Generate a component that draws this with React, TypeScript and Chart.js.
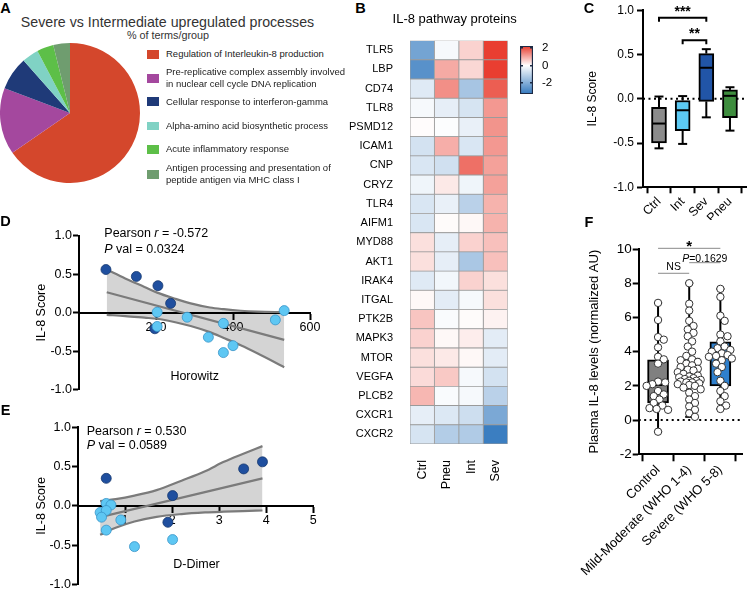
import React, { useEffect, useRef } from 'react';
import { Chart, registerables } from 'chart.js';

Chart.register(...registerables);

const FONT = '"Liberation Sans", Arial, Helvetica, sans-serif';
Chart.defaults.font.family = FONT;
Chart.defaults.color = '#000';

// ---------------- A: pie ----------------
const pieTerms = [
  ['Regulation of Interleukin-8 production'],
  ['Pre-replicative complex assembly involved', 'in nuclear cell cycle DNA replication'],
  ['Cellular response to interferon-gamma'],
  ['Alpha-amino acid biosynthetic process'],
  ['Acute inflammatory response'],
  ['Antigen processing and presentation of', 'peptide antigen via MHC class I'],
];
const pieShares = [17, 4, 2, 1, 1, 1];
const pieColors = ['#d4472c', '#a4489e', '#1f3a78', '#80d2c4', '#5dbf48', '#6f9d6f'];

// ---------------- B: heatmap ----------------
const heatProteins = ['TLR5', 'LBP', 'CD74', 'TLR8', 'PSMD12', 'ICAM1', 'CNP', 'CRYZ', 'TLR4', 'AIFM1', 'MYD88', 'AKT1', 'IRAK4', 'ITGAL', 'PTK2B', 'MAPK3', 'MTOR', 'VEGFA', 'PLCB2', 'CXCR1', 'CXCR2'];
const heatGroups = ['Ctrl', 'Pneu', 'Int', 'Sev'];
const heatCtrl = [-2.2, -2.65, -0.5, -0.15, 0.03, -0.7, -0.6, -0.25, -0.6, -0.6, 0.35, 0.35, -0.5, 0.08, 0.65, 0.5, 0.35, 0.4, 0.8, -0.4, -0.65];
const heatPneu = [-0.15, 0.95, 1.25, -0.4, -0.05, 0.9, -0.75, 0.25, -0.35, 0.05, -0.4, -0.4, -0.2, -0.45, -0.1, 0.08, 0.25, 0.6, -0.1, -0.55, -1.2];
const heatInt = [0.5, 0.45, -1.4, -0.65, -0.35, -0.6, 1.6, -0.25, -1.1, 0.08, 0.5, -1.35, 0.5, -0.15, 0.05, 0.2, 0.08, -0.15, -0.15, -0.8, -1.25];
const heatSev = [2.15, 2.15, 1.8, 1.15, 1.2, 1.15, 1.05, 1.05, 0.85, 0.85, 0.7, 0.7, 0.35, 0.35, 0.15, -0.45, -0.45, -0.7, -1.1, -2.1, -3.1];
const colorbarMin = -3.25;
const colorbarMax = 2.2;
const colorbarTicks = [-2, 0, 2];

// ---------------- C: IL-8 score box plot ----------------
const cGroups = ['Ctrl', 'Int', 'Sev', 'Pneu'];
const cMin = [-0.56, -0.51, -0.21, -0.36];
const cQ1 = [-0.5, -0.36, -0.03, -0.215];
const cMed = [-0.28, -0.13, 0.35, 0.033];
const cQ3 = [-0.097, -0.02, 0.51, 0.1];
const cMax = [0.025, 0.03, 0.56, 0.13];
const cColors = ['#8c8c8c', '#5ccaf4', '#2155a7', '#3e8d3e'];
const cSigFrom = [1, 2];
const cSigTo = [3, 3];
const cSigY = [0.915, 0.66];
const cSigText = ['***', '**'];

// ---------------- D: Horowitz ----------------
const dDarkX = [70, 149, 205, 238, 197];
const dDarkY = [0.56, 0.47, 0.35, 0.12, -0.21];
const dLightX = [203, 203, 281, 336, 375, 375, 400, 510, 533];
const dLightY = [0.005, -0.18, -0.06, -0.32, -0.14, -0.52, -0.43, -0.095, 0.026];
const dBandX = [72, 120, 170, 203, 250, 290, 340, 376, 420, 463, 533];
const dBandUpper = [0.56, 0.445, 0.334, 0.26, 0.18, 0.12, 0.066, 0.044, 0.024, 0.013, 0.006];
const dBandLower = [-0.03, -0.045, -0.066, -0.08, -0.125, -0.174, -0.254, -0.33, -0.426, -0.53, -0.71];
const dFitX = [72, 533];
const dFitY = [0.265, -0.355];

// ---------------- E: D-Dimer ----------------
const eDarkX = [0.6, 2.01, 3.52, 3.92, 1.91];
const eDarkY = [0.35, 0.13, 0.47, 0.56, -0.21];
const eLightX = [0.6, 0.7, 0.47, 0.6, 0.5, 0.91, 0.6, 1.2, 2.01];
const eLightY = [0.03, 0.01, -0.085, -0.06, -0.145, -0.18, -0.31, -0.52, -0.43];
const eBandX = [0.47, 0.8, 1.2, 1.67, 2.2, 2.7, 3.1, 3.5, 3.92];
const eBandUpper = [0.06, 0.085, 0.13, 0.2, 0.32, 0.44, 0.56, 0.66, 0.76];
const eBandLower = [-0.37, -0.28, -0.2, -0.14, -0.105, -0.085, -0.075, -0.067, -0.06];
const eFitX = [0.47, 3.92];
const eFitY = [-0.145, 0.35];

// ---------------- F: plasma IL-8 ----------------
const fGroups = ['Control', 'Mild-Moderate (WHO 1-4)', 'Severe (WHO 5-8)'];
const fControl = [6.85, 5.85, 4.85, 4.7, 4.25, 3.7, 3.55, 3.3, 2.25, 2.2, 2.1, 2.0, 1.7, 1.5, 1.4, 1.2, 1.0, 0.85, 0.7, 0.65, 0.6, -0.68];
const fMild = [8.0, 6.8, 6.4, 5.8, 5.5, 5.3, 5.1, 4.9, 4.6, 4.3, 4.0, 3.75, 3.55, 3.5, 3.4, 3.3, 3.2, 3.1, 3.0, 2.95, 2.9, 2.8, 2.7, 2.6, 2.55, 2.5, 2.45, 2.4, 2.35, 2.3, 2.3, 2.25, 2.2, 2.2, 2.15, 2.1, 2.05, 2.0, 1.9, 1.8, 1.6, 1.4, 1.2, 1.0, 0.8, 0.6, 0.4, 0.19];
const fSevere = [7.67, 7.2, 6.1, 5.8, 5.0, 4.9, 4.6, 4.3, 4.2, 4.1, 4.0, 3.9, 3.8, 3.75, 3.7, 3.6, 3.5, 3.3, 3.1, 2.8, 2.3, 2.0, 1.7, 1.4, 1.1, 0.85, 0.65];
const fMin = [-0.68, 0.19, 0.65];
const fQ1 = [1.0, 2.1, 2.0];
const fMed = [2.05, 2.55, 3.7];
const fQ3 = [3.52, 3.62, 4.58];
const fMax = [6.85, 8.0, 7.67];
const fColors = ['#808080', '#7fd5e2', '#2f80cd'];

// ---------------- helpers ----------------
function heatColor(v: number): string {
  const t = v >= 0 ? Math.min(1, v / colorbarMax) : Math.min(1, v / colorbarMin);
  const end = v >= 0 ? [232, 58, 44] : [50, 120, 190];
  const c = end.map((e) => Math.round(255 + (e - 255) * t));
  return `rgb(${c[0]},${c[1]},${c[2]})`;
}

function swarmOffsets(values: number[]): number[] {
  const pxY = 17.1, pxX = 32.67, diam = 6.4, maxPx = 12, step = 1.5;
  const order = values.map((_, i) => i).sort((a, b) => values[b] - values[a]);
  const placed: { dx: number; py: number }[] = [];
  const out = values.map(() => 0);
  for (const i of order) {
    const py = values[i] * pxY;
    let best = 0, bestD = -1;
    const n = 2 * Math.floor(maxPx / step);
    for (let k = 0; k <= n; k++) {
      const dx = (k % 2 === 1 ? 1 : -1) * Math.ceil(k / 2) * step;
      let dmin = Infinity;
      for (const p of placed) dmin = Math.min(dmin, Math.hypot(p.dx - dx, p.py - py));
      if (dmin >= diam) { best = dx; bestD = dmin; break; }
      if (dmin > bestD) { bestD = dmin; best = dx; }
    }
    placed.push({ dx: best, py });
    out[i] = best / pxX;
  }
  return out;
}

function baseOptions(pad: any) {
  return {
    animation: false,
    responsive: false,
    maintainAspectRatio: false,
    devicePixelRatio: 1,
    events: [],
    layout: { padding: pad },
    plugins: { legend: { display: false }, tooltip: { enabled: false }, title: { display: false } },
  };
}

function axis(size: number, tickLen: number, pad: number, extraTicks: any = {}) {
  return {
    border: { display: true, color: '#000', width: 2 },
    grid: { display: true, drawOnChartArea: false, drawTicks: true, tickLength: tickLen, tickWidth: 2, tickColor: '#000' },
    ticks: { color: '#000', font: { family: FONT, size }, padding: pad, autoSkip: false, ...extraTicks },
  };
}

function drawBoxExtras(chart: any, s: any) {
  const { ctx, scales } = chart;
  const xs = scales.x, ys = scales.y;
  ctx.save();
  ctx.strokeStyle = '#000';
  ctx.lineWidth = 2;
  ctx.lineCap = 'butt';
  const seg = (x1: number, y1: number, x2: number, y2: number) => {
    ctx.beginPath(); ctx.moveTo(x1, y1); ctx.lineTo(x2, y2); ctx.stroke();
  };
  s.pos.forEach((p: number, i: number) => {
    const px = xs.getPixelForValue(p);
    const yMin = ys.getPixelForValue(s.min[i]);
    const yQ1 = ys.getPixelForValue(s.q1[i]);
    const yMed = ys.getPixelForValue(s.med[i]);
    const yQ3 = ys.getPixelForValue(s.q3[i]);
    const yMax = ys.getPixelForValue(s.max[i]);
    seg(px, yQ1, px, yMin);
    seg(px - s.cap, yMin, px + s.cap, yMin);
    seg(px, yQ3, px, yMax);
    seg(px - s.cap, yMax, px + s.cap, yMax);
    seg(px - s.half, yMed, px + s.half, yMed);
  });
  ctx.restore();
}

function drawBrackets(chart: any, list: any[]) {
  const { ctx, scales } = chart;
  const xs = scales.x, ys = scales.y;
  ctx.save();
  list.forEach((b) => {
    const x1 = xs.getPixelForValue(b.from);
    const x2 = xs.getPixelForValue(b.to);
    const yy = ys.getPixelForValue(b.y);
    ctx.strokeStyle = b.color;
    ctx.lineWidth = b.lw;
    ctx.beginPath();
    if (b.drop) {
      ctx.moveTo(x1, yy + b.drop); ctx.lineTo(x1, yy); ctx.lineTo(x2, yy); ctx.lineTo(x2, yy + b.drop);
    } else {
      ctx.moveTo(x1, yy); ctx.lineTo(x2, yy);
    }
    ctx.stroke();
    ctx.fillStyle = '#000';
    ctx.textBaseline = 'alphabetic';
    ctx.textAlign = 'left';
    const fontFor = (p: any) => `${p.italic ? 'italic ' : ''}${b.bold ? 'bold ' : ''}${b.size}px ${FONT}`;
    let total = 0;
    b.parts.forEach((p: any) => { ctx.font = fontFor(p); total += ctx.measureText(p.t).width; });
    let cx = (x1 + x2) / 2 - total / 2;
    b.parts.forEach((p: any) => {
      ctx.font = fontFor(p);
      ctx.fillText(p.t, cx, yy + b.dy);
      cx += ctx.measureText(p.t).width;
    });
  });
  ctx.restore();
}

// ---------------- chart configs ----------------
const makePie = () => ({
  type: 'pie',
  data: {
    labels: pieTerms.map((t) => t.join(' ')),
    datasets: [{ data: pieShares, backgroundColor: pieColors, borderWidth: 0 }],
  },
  options: { ...baseOptions({ left: 0, top: 0, right: 0, bottom: 0 }) },
});

const heatByGroup = [heatCtrl, heatPneu, heatInt, heatSev];
const makeHeat = () => ({
  type: 'bar',
  data: {
    labels: heatProteins,
    datasets: heatGroups.map((g, gi) => ({
      label: g,
      data: heatProteins.map(() => 1),
      backgroundColor: heatByGroup[gi].map(heatColor),
      borderColor: '#9b9b9b',
      borderWidth: 0.8,
      borderSkipped: false,
      barPercentage: 1,
      categoryPercentage: 1,
    })),
  },
  options: {
    ...baseOptions({ left: 0, top: 10, right: 12, bottom: 0 }),
    indexAxis: 'y',
    scales: {
      x: {
        type: 'linear', stacked: true, min: 0, max: 4, position: 'bottom',
        afterBuildTicks: (s: any) => { s.ticks = heatGroups.map((_, i) => ({ value: i + 0.5 })); },
        afterFit: (s: any) => { s.height = 51; },
        border: { display: false },
        grid: { display: false },
        ticks: {
          autoSkip: false, minRotation: 90, maxRotation: 90, padding: 8, color: '#000',
          font: { family: FONT, size: 12.5 },
          callback: (v: any) => heatGroups[Math.floor(v)],
        },
      },
      y: {
        type: 'category', stacked: true, offset: true,
        afterFit: (s: any) => { s.width = 70; },
        border: { display: false },
        grid: { display: false },
        ticks: { autoSkip: false, padding: 9, color: '#000', font: { family: FONT, size: 11 } },
      },
    },
  },
});

const makeColorbar = () => ({
  type: 'bar',
  data: {
    labels: [''],
    datasets: [{
      data: [[colorbarMin, colorbarMax]],
      backgroundColor: (c: any) => {
        const chart = c.chart;
        const area = chart.chartArea;
        if (!area) return '#fff';
        const g = chart.ctx.createLinearGradient(0, area.bottom, 0, area.top);
        g.addColorStop(0, heatColor(colorbarMin));
        g.addColorStop((0 - colorbarMin) / (colorbarMax - colorbarMin), heatColor(0));
        g.addColorStop(1, heatColor(colorbarMax));
        return g;
      },
      borderColor: '#1d2a44',
      borderWidth: 1.5,
      borderSkipped: false,
      barPercentage: 1,
      categoryPercentage: 1,
    }],
  },
  options: {
    ...baseOptions({ left: 5, top: 5, right: 0, bottom: 6.7 }),
    scales: {
      x: { display: false },
      y: {
        position: 'right', min: colorbarMin, max: colorbarMax,
        afterBuildTicks: (s: any) => { s.ticks = colorbarTicks.map((value) => ({ value })); },
        afterFit: (s: any) => { s.width = 37; },
        grid: { display: true, drawOnChartArea: true, drawTicks: false, color: '#1d2a44', lineWidth: 1.5, z: 1 },
        border: { display: false, dash: [3, 7] },
        ticks: { padding: 9, color: '#000', font: { family: FONT, size: 11.5 } },
      },
    },
  },
});

const cPos = [1, 2, 3, 4];
const cXMin = 0.324, cXMax = 4.72;
const makeC = () => ({
  type: 'bar',
  data: {
    datasets: [
      { type: 'line', data: [{ x: cXMin, y: 0 }, { x: cXMax, y: 0 }], borderColor: '#000', borderWidth: 2, borderDash: [2, 3.5], pointRadius: 0, order: 2 },
      {
        type: 'bar',
        data: cPos.map((p, i) => ({ x: p, y: [cQ1[i], cQ3[i]] })),
        backgroundColor: cColors, borderColor: '#000', borderWidth: 2, borderSkipped: false, barThickness: 15, order: 1,
      },
    ],
  },
  options: {
    ...baseOptions({ left: 0, top: 7.3, right: 0, bottom: 0 }),
    scales: {
      x: {
        type: 'linear', min: cXMin, max: cXMax, offset: false,
        afterBuildTicks: (s: any) => { s.ticks = cPos.map((value) => ({ value })); },
        afterFit: (s: any) => { s.height = 32.7; },
        ...axis(12.5, 6, 1, { minRotation: 45, maxRotation: 45, callback: (v: any) => cGroups[cPos.indexOf(v)] }),
      },
      y: {
        type: 'linear', min: -1, max: 1,
        afterFit: (s: any) => { s.width = 73; },
        ...axis(12, 6, 3, { stepSize: 0.5, callback: (v: any) => Number(v).toFixed(1) }),
        title: { display: true, text: 'IL-8 Score', color: '#000', font: { family: FONT, size: 12 }, padding: { top: 15.8, bottom: 0 } },
      },
    },
  },
  plugins: [{
    id: 'cExtras',
    afterDatasetsDraw(chart: any) {
      drawBoxExtras(chart, { pos: cPos, min: cMin, q1: cQ1, med: cMed, q3: cQ3, max: cMax, cap: 4.5, half: 6.5 });
      drawBrackets(chart, cSigText.map((t, i) => ({
        from: cSigFrom[i], to: cSigTo[i], y: cSigY[i], parts: [{ t }],
        color: '#000', lw: 2, drop: 4, dy: -2, size: 14, bold: true,
      })));
    },
  }],
});

function makeCorr(o: any) {
  return () => ({
    type: 'scatter',
    data: {
      datasets: [
        {
          type: 'line', data: o.bandX.map((x: number, i: number) => ({ x, y: o.lower[i] })),
          borderColor: '#7b7b7b', borderWidth: 2.2, pointRadius: 0, cubicInterpolationMode: 'monotone',
          fill: '+1', backgroundColor: 'rgba(0,0,0,0.17)', order: 3,
        },
        {
          type: 'line', data: o.bandX.map((x: number, i: number) => ({ x, y: o.upper[i] })),
          borderColor: '#7b7b7b', borderWidth: 2.2, pointRadius: 0, cubicInterpolationMode: 'monotone', fill: false, order: 2,
        },
        {
          type: 'line', data: o.fitX.map((x: number, i: number) => ({ x, y: o.fitY[i] })),
          borderColor: '#7b7b7b', borderWidth: 2.2, pointRadius: 0, fill: false, order: 2,
        },
        {
          data: o.lightX.map((x: number, i: number) => ({ x, y: o.lightY[i] })),
          pointRadius: 5, backgroundColor: '#5ec7f3', borderColor: '#3a94c8', borderWidth: 0.8, order: 0,
        },
        {
          data: o.darkX.map((x: number, i: number) => ({ x, y: o.darkY[i] })),
          pointRadius: 5, backgroundColor: '#1f4f9f', borderColor: '#16386f', borderWidth: 0.8, order: 0,
        },
      ],
    },
    options: {
      ...baseOptions(o.pad),
      scales: {
        x: {
          type: 'linear', position: { y: 0 }, min: o.xMin, max: o.xMax,
          afterBuildTicks: (s: any) => { s.ticks = o.xTicks.map((value: number) => ({ value })); },
          ...axis(12.5, 6, 1),
        },
        y: {
          type: 'linear', min: -1, max: 1,
          afterFit: (s: any) => { s.width = o.yW; },
          ...axis(12.5, 6, 1, { stepSize: 0.5, callback: (v: any) => Number(v).toFixed(1) }),
          title: { display: true, text: 'IL-8 Score', color: '#000', font: { family: FONT, size: 12.5 }, padding: { top: o.titlePad, bottom: 0 } },
        },
      },
    },
  });
}

const makeD = makeCorr({
  darkX: dDarkX, darkY: dDarkY, lightX: dLightX, lightY: dLightY,
  bandX: dBandX, upper: dBandUpper, lower: dBandLower, fitX: dFitX, fitY: dFitY,
  xMin: 0, xMax: 600, xTicks: [200, 400, 600], yW: 79, titlePad: 34.5,
  pad: { left: 0, top: 17.7, right: 20, bottom: 8 },
});

const makeE = makeCorr({
  darkX: eDarkX, darkY: eDarkY, lightX: eLightX, lightY: eLightY,
  bandX: eBandX, upper: eBandUpper, lower: eBandLower, fitX: eFitX, fitY: eFitY,
  xMin: 0, xMax: 5, xTicks: [1, 2, 3, 4, 5], yW: 78, titlePad: 34.2,
  pad: { left: 0, top: 22.3, right: 16.7, bottom: 12.7 },
});

const fPos = [1, 2, 3];
const fXMin = 0.379, fXMax = 3.694;
const fValues = [fControl, fMild, fSevere];
const makeF = () => {
  const points: { x: number; y: number }[] = [];
  fValues.forEach((vals, gi) => {
    const offs = swarmOffsets(vals);
    vals.forEach((v, j) => points.push({ x: fPos[gi] + offs[j], y: v }));
  });
  return {
    type: 'bar',
    data: {
      datasets: [
        { type: 'line', data: [{ x: fXMin, y: 0 }, { x: fXMax, y: 0 }], borderColor: '#000', borderWidth: 2, borderDash: [2, 3.5], pointRadius: 0, order: 2 },
        {
          type: 'bar', data: fPos.map((p, i) => ({ x: p, y: [fQ1[i], fQ3[i]] })),
          backgroundColor: fColors, borderColor: '#000', borderWidth: 2, borderSkipped: false, barThickness: 21, order: 1,
        },
        {
          type: 'scatter', data: points, pointRadius: 3.7, backgroundColor: '#fff', borderColor: '#333', borderWidth: 1, order: 0,
        },
      ],
    },
    options: {
      ...baseOptions({ left: 0, top: 24, right: 0, bottom: 0 }),
      scales: {
        x: {
          type: 'linear', min: fXMin, max: fXMax, offset: false,
          afterBuildTicks: (s: any) => { s.ticks = fPos.map((value) => ({ value })); },
          afterFit: (s: any) => { s.height = 134.7; },
          ...axis(13, 7, 1, { minRotation: 45, maxRotation: 45, callback: (v: any) => fGroups[fPos.indexOf(v)] }),
        },
        y: {
          type: 'linear', min: -2, max: 10,
          afterFit: (s: any) => { s.width = 78.7; },
          ...axis(13.5, 6, 1, { stepSize: 2 }),
          title: { display: true, text: 'Plasma IL-8 levels (normalized AU)', color: '#000', font: { family: FONT, size: 13 }, padding: { top: 26.2, bottom: 0 } },
        },
      },
    },
    plugins: [{
      id: 'fExtras',
      beforeDatasetDraw(chart: any, args: any) {
        if (args.index === 2) {
          drawBoxExtras(chart, { pos: fPos, min: fMin, q1: fQ1, med: fMed, q3: fQ3, max: fMax, cap: 4, half: 9.5 });
        }
      },
      afterDraw(chart: any) {
        drawBrackets(chart, [
          { from: 1, to: 3, y: 10.04, parts: [{ t: '*' }], color: '#8a8a8a', lw: 1, drop: 0, dy: 2.8, size: 15, bold: true },
          { from: 1, to: 2, y: 8.58, parts: [{ t: 'NS' }], color: '#8a8a8a', lw: 1, drop: 0, dy: -2.8, size: 10.5, bold: false },
          { from: 2, to: 3, y: 9.2, parts: [{ t: 'P', italic: true }, { t: '=0.1629' }], color: '#8a8a8a', lw: 1, drop: 0, dy: -0.5, size: 10.5, bold: false },
        ]);
      },
    }],
  };
};

// ---------------- components ----------------
function ChartCanvas({ x, y, w, h, make }: { x: number; y: number; w: number; h: number; make: () => any }) {
  const ref = useRef<HTMLCanvasElement | null>(null);
  useEffect(() => {
    if (!ref.current) return;
    const chart = new Chart(ref.current, make());
    return () => chart.destroy();
  }, []);
  return (
    <div style={{ position: 'absolute', left: x, top: y, width: w, height: h }}>
      <canvas ref={ref} width={w} height={h} style={{ width: w, height: h, display: 'block' }} />
    </div>
  );
}

function Txt({ x, y, size, children, align = 'left', bold = false, color = '#000' }: any) {
  const tx = align === 'center' ? '-50%' : align === 'right' ? '-100%' : '0';
  return (
    <div style={{
      position: 'absolute', left: x, top: y, transform: `translate(${tx}, -50%)`, fontSize: size, lineHeight: 1,
      fontWeight: bold ? 700 : 400, color, whiteSpace: 'nowrap', fontFamily: FONT,
    }}>{children}</div>
  );
}

const pieLegendY = [54.3, 78.2, 101.7, 126, 149.3, 174.2];

export default function App() {
  return (
    <div style={{ position: 'absolute', left: 0, top: 0, width: 747, height: 589, overflow: 'hidden', background: '#fff', fontFamily: FONT }}>
      <ChartCanvas x={0} y={43} w={140} h={140} make={makePie} />
      <ChartCanvas x={340} y={25} w={180} h={470} make={makeHeat} />
      <ChartCanvas x={515} y={30} w={55} h={80} make={makeColorbar} />
      <ChartCanvas x={570} y={0} w={177} h={220} make={makeC} />
      <ChartCanvas x={0} y={218} w={330} h={180} make={makeD} />
      <ChartCanvas x={0} y={405} w={330} h={192} make={makeE} />
      <ChartCanvas x={560} y={225} w={187} h={364} make={makeF} />

      {/* panel letters */}
      <Txt x={5.5} y={8} size={14.5} bold align="center">A</Txt>
      <Txt x={360.5} y={8} size={14.5} bold align="center">B</Txt>
      <Txt x={589} y={8} size={14.5} bold align="center">C</Txt>
      <Txt x={5.5} y={221} size={14.5} bold align="center">D</Txt>
      <Txt x={5.5} y={410} size={14.5} bold align="center">E</Txt>
      <Txt x={589} y={221.5} size={14.5} bold align="center">F</Txt>

      {/* A title + legend */}
      <Txt x={167.5} y={21.7} size={14.2} align="center" color="#333">Severe vs Intermediate upregulated processes</Txt>
      <Txt x={168} y={34.7} size={10.8} align="center" color="#333">% of terms/group</Txt>
      {pieTerms.map((lines, i) => (
        <React.Fragment key={i}>
          <div style={{ position: 'absolute', left: 146.7, top: pieLegendY[i] - 4.3, width: 12.6, height: 8.7, background: pieColors[i] }} />
          {lines.map((ln, k) => (
            <Txt key={k} x={166} y={pieLegendY[i] + (k - (lines.length - 1) / 2) * 11.7} size={9.5} color="#222">{ln}</Txt>
          ))}
        </React.Fragment>
      ))}

      {/* B title */}
      <Txt x={454.7} y={18.3} size={13} align="center">IL-8 pathway proteins</Txt>

      {/* D annotations */}
      <Txt x={104.3} y={233.3} size={12.5}>Pearson <i>r</i> = -0.572</Txt>
      <Txt x={104.3} y={249} size={12.5}><i>P</i> val = 0.0324</Txt>
      <Txt x={194.7} y={376} size={12.5} align="center">Horowitz</Txt>

      {/* E annotations */}
      <Txt x={86.7} y={430.7} size={12.5}>Pearson <i>r</i> = 0.530</Txt>
      <Txt x={86.7} y={445} size={12.5}><i>P</i> val = 0.0589</Txt>
      <Txt x={196.5} y={564} size={12.5} align="center">D-Dimer</Txt>
    </div>
  );
}
